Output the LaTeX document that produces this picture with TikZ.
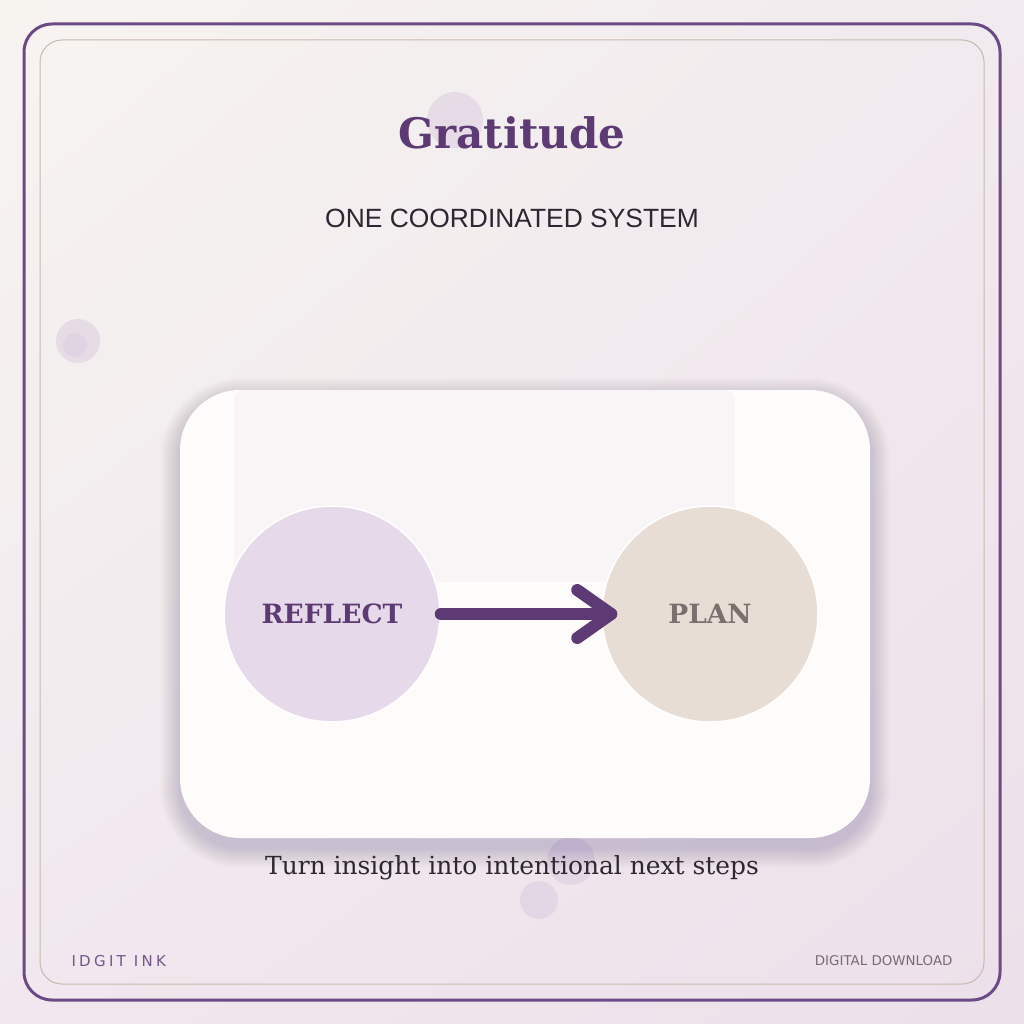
\documentclass[tikz,border=0pt]{standalone}
\usepackage{fontspec}
\setmainfont{DejaVu Serif}
\newfontfamily\capsfont{Liberation Sans}
\newfontfamily\footfont{DejaVu Sans}
\newfontfamily\brandfont[LetterSpace=22]{DejaVu Sans}
\usetikzlibrary{arrows.meta,positioning,calc,shadings}
\definecolor{plum}{HTML}{5D3A73}
\definecolor{framepurple}{HTML}{6C4A86}
\definecolor{framebeige}{HTML}{C9B9AE}
\definecolor{lilac}{HTML}{E6D9EA}
\definecolor{sand}{HTML}{E8DDD5}
\definecolor{inkgray}{HTML}{2E2630}
\definecolor{softgray}{HTML}{7A6A74}
\definecolor{plangray}{HTML}{7D6E6E}
\definecolor{dotlilac}{HTML}{DCCDE0}
\definecolor{cardwhite}{HTML}{FDFCFB}
\definecolor{panelwhite}{HTML}{F8F5F7}
\definecolor{bgtl}{HTML}{F7F4F0}
\definecolor{bgtr}{HTML}{F1EAEE}
\definecolor{bgbl}{HTML}{F0E8EE}
\definecolor{bgbr}{HTML}{ECE0EA}
\tikzset{step circle/.style={circle, minimum size=216pt, inner sep=0pt, draw=white, line width=1.5pt, font=\bfseries\fontsize{26.5}{30}\selectfont}}
\tikzset{flow edge/.style={draw=plum, line width=12pt, line cap=round, line join=round}}
\tikzset{deco dot/.style={fill=dotlilac, opacity=0.55}}
\tikzset{card shadow/.style={fill=framepurple, opacity=0.012}}

\begin{document}
\begin{tikzpicture}[x=1pt,y=-1pt]
	\useasboundingbox (0,0) rectangle (1024,1024);
	\shade[upper left=bgtl, upper right=bgtr, lower left=bgbl, lower right=bgbr] (0,0) rectangle (1024,1024);

	% frame
	\draw[framepurple, line width=3pt, rounded corners=28pt] (24,24) rectangle (1000,1000);
	\draw[framebeige, line width=1pt, rounded corners=22pt] (40,40) rectangle (984,984);

	% decorative dots
	\fill[deco dot] (455,120) circle (28);
	\fill[deco dot] (78,341) circle (22);
	\fill[deco dot] (75,345) circle (12);
	\fill[deco dot] (571,861) circle (24);
	\fill[deco dot] (539,900) circle (19);

	% heading
	\node[text=plum, font=\bfseries\fontsize{42}{48}\selectfont] (title) at (512,133) {Gratitude};
	\node[text=inkgray, font=\capsfont\fontsize{26.4}{30}\selectfont] (subtitle) at (512,218) {ONE COORDINATED SYSTEM};

	% card
	\foreach \i in {1,...,20}
		\fill[card shadow, rounded corners=60pt+\i pt] (180-\i,398-\i) rectangle (870+\i,848+\i);
	\fill[cardwhite, rounded corners=60pt] (180,390) rectangle (870,838);
	\fill[panelwhite, rounded corners=10pt] (234,390) rectangle (735,582);

	\node[step circle, fill=lilac, text=plum] (reflect) at (332,614) {REFLECT};
	\node[step circle, fill=sand, text=plangray] (plan) at (710,614) {PLAN};

	\coordinate (tip) at ($(plan.west)+(10,0)$);
	\draw[flow edge] (reflect.east) -- (tip);
	\draw[flow edge] ($(tip)+(-34,-24)$) -- (tip) -- ($(tip)+(-34,24)$);

	\node[text=inkgray, font=\fontsize{24.9}{30}\selectfont] (caption) at (512,868) {Turn insight into intentional next steps};

	% footer
	\node[text=plum!85, font=\brandfont\fontsize{15}{17}\selectfont, anchor=west] (brand) at (68,961) {IDGIT INK};
	\node[text=softgray, font=\footfont\fontsize{13.4}{16}\selectfont, anchor=east] (download) at (956,961) {DIGITAL DOWNLOAD};
\end{tikzpicture}
\end{document}
